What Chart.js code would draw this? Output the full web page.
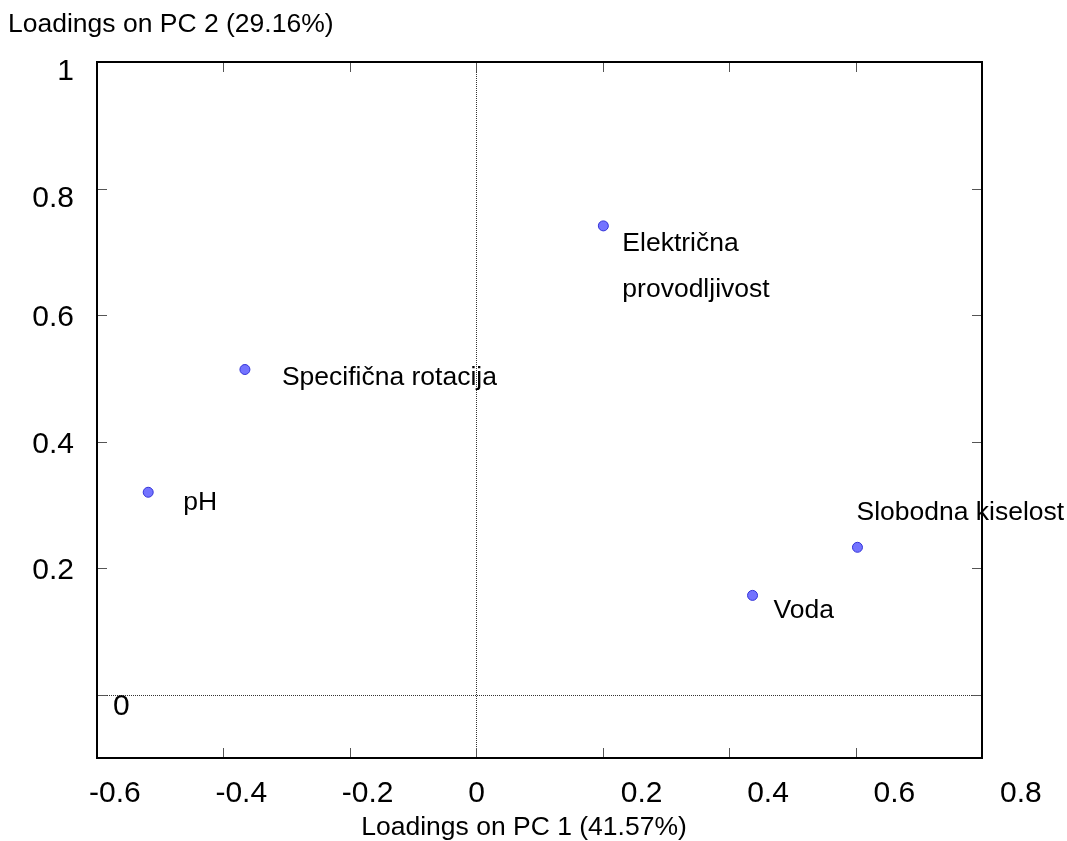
<!DOCTYPE html>
<html>
<head>
<meta charset="utf-8">
<script src="https://cdn.jsdelivr.net/npm/chart.js@4.4.1/dist/chart.umd.min.js"></script>
<style>
  html, body { margin: 0; padding: 0; background: #fff; }
  #wrap { width: 1067px; height: 841px; position: relative; }
</style>
</head>
<body>
<div id="wrap"><canvas id="loadingsChart"></canvas></div>
<script>
// Variables and their loadings on PC 1 / PC 2
const variables = ['pH', 'Specifična rotacija', 'Električna\nprovodljivost', 'Voda', 'Slobodna kiselost'];
const pc1 = [-0.519, -0.366, 0.201, 0.437, 0.603];
const pc2 = [0.320, 0.514, 0.741, 0.157, 0.233];

const xTicks = [-0.6, -0.4, -0.2, 0, 0.2, 0.4, 0.6, 0.8];
const yTicks = [0, 0.2, 0.4, 0.6, 0.8, 1];
const xTitle = 'Loadings on PC 1 (41.57%)';
const yTitle = 'Loadings on PC 2 (29.16%)';

// where each label sits relative to its point (px)
const labelShift = [[35, 10], [37, 8], [19, 18], [21, 15], [-1, -35]];

const FONT = '"Liberation Sans", Arial, sans-serif';

const pcaPlugin = {
    id: 'pcaDecor',
    beforeDatasetsDraw(chart) {
        const { ctx, chartArea: a, scales: { x, y } } = chart;
        const x0 = Math.round(x.getPixelForValue(0)) + 0.5;
        const y0 = Math.round(y.getPixelForValue(0)) + 0.5;
        ctx.save();
        ctx.strokeStyle = '#333';
        ctx.lineWidth = 1;
        ctx.setLineDash([1, 1]);
        ctx.beginPath();
        ctx.moveTo(x0, a.top); ctx.lineTo(x0, a.bottom);
        ctx.moveTo(a.left, y0); ctx.lineTo(a.right, y0);
        ctx.stroke();
        ctx.restore();
    },
    afterDatasetsDraw(chart) {
        const { ctx, chartArea: a, scales: { x, y } } = chart;
        ctx.save();

        // point labels
        ctx.fillStyle = '#000';
        ctx.font = '26.5px ' + FONT;
        ctx.textAlign = 'left';
        ctx.textBaseline = 'middle';
        variables.forEach((name, i) => {
            const px = x.getPixelForValue(pc1[i]) + labelShift[i][0];
            const py = y.getPixelForValue(pc2[i]) + labelShift[i][1];
            name.split('\n').forEach((line, k) => ctx.fillText(line, px, py + k * 46));
        });

        // inward tick marks on all four sides
        ctx.strokeStyle = '#555';
        ctx.lineWidth = 1;
        ctx.beginPath();
        xTicks.forEach(v => {
            const px = Math.round(x.getPixelForValue(v)) + 0.5;
            ctx.moveTo(px, a.bottom); ctx.lineTo(px, a.bottom - 10);
            ctx.moveTo(px, a.top); ctx.lineTo(px, a.top + 10);
        });
        yTicks.forEach(v => {
            const py = Math.round(y.getPixelForValue(v)) + 0.5;
            ctx.moveTo(a.left, py); ctx.lineTo(a.left + 10, py);
            ctx.moveTo(a.right, py); ctx.lineTo(a.right - 10, py);
        });
        ctx.stroke();

        // frame
        ctx.strokeStyle = '#000';
        ctx.lineWidth = 2;
        ctx.strokeRect(a.left, a.top, a.right - a.left, a.bottom - a.top);

        // tick labels
        ctx.fillStyle = '#000';
        ctx.font = '30px ' + FONT;
        ctx.textBaseline = 'middle';
        ctx.textAlign = 'left';
        xTicks.forEach(v => {
            const px = x.getPixelForValue(v) + (v > 0 ? 18 : -8);
            ctx.fillText(String(v), px, a.bottom + 36);
        });
        yTicks.forEach(v => {
            const py = y.getPixelForValue(v);
            if (v === 0) {
                ctx.textAlign = 'left';
                ctx.fillText('0', a.left + 16, py + 12);
            } else {
                ctx.textAlign = 'right';
                ctx.fillText(String(v), a.left - 23, py + (v >= 0.8 ? 10 : 3));
            }
        });

        // axis titles
        ctx.font = '26.5px ' + FONT;
        ctx.textAlign = 'left';
        ctx.fillText(yTitle, 8, 25);
        ctx.textAlign = 'center';
        ctx.fillText(xTitle, 524, a.bottom + 70);
        ctx.restore();
    }
};

document.addEventListener('DOMContentLoaded', () => {
    const ctx = document.getElementById('loadingsChart');
    new Chart(ctx, {
        type: 'scatter',
        data: {
            datasets: [{
                data: pc1.map((v, i) => ({ x: v, y: pc2[i] })),
                pointRadius: 5,
                backgroundColor: '#7373ff',
                borderColor: '#3434d8',
                borderWidth: 1
            }]
        },
        options: {
            responsive: true,
            maintainAspectRatio: false,
            animation: false,
            layout: { padding: { left: 97, right: 85, top: 62, bottom: 83 } },
            plugins: {
                legend: { display: false },
                tooltip: { enabled: false }
            },
            scales: {
                x: { type: 'linear', min: -0.6, max: 0.8, display: false },
                y: { type: 'linear', min: -0.1, max: 1, display: false }
            }
        },
        plugins: [pcaPlugin]
    });
});
</script>
</body>
</html>
